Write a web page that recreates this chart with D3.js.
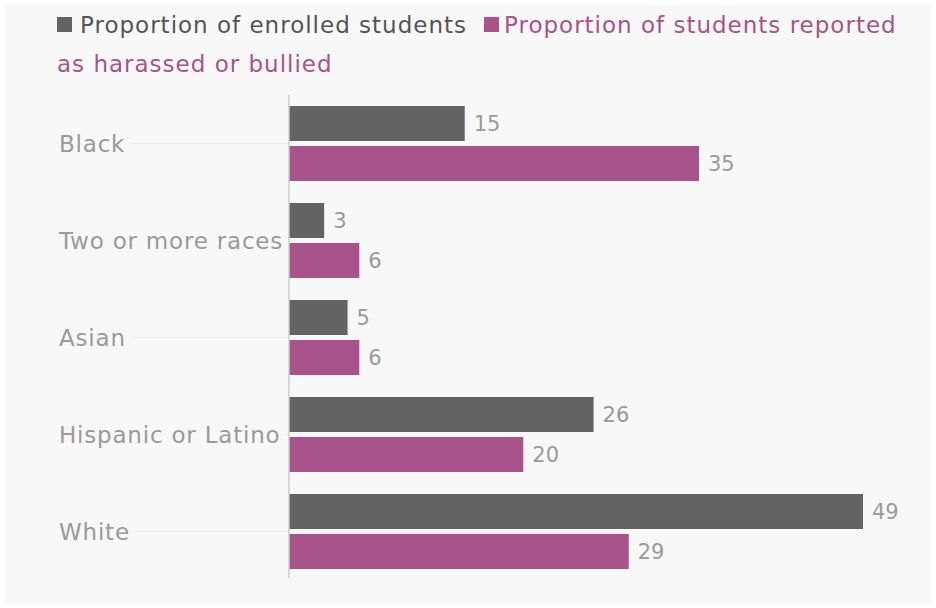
<!DOCTYPE html>
<html>
<head>
<meta charset="utf-8">
<script src="https://cdn.jsdelivr.net/npm/d3@7"></script>
<style>
  html, body { margin: 0; padding: 0; background: #ffffff; }
  svg { display: block; }
  text { font-family: "DejaVu Sans", Verdana, sans-serif; }
</style>
</head>
<body>
<svg id="chart" width="936" height="608"></svg>
<script>
// Share of enrolled students vs. share of students reported as harassed or bullied, by race
const categories = ["Black", "Two or more races", "Asian", "Hispanic or Latino", "White"];
const seriesNames = ["Proportion of enrolled students", "Proportion of students reported as harassed or bullied"];
const enrolled = [15, 3, 5, 26, 49];
const harassed = [35, 6, 6, 20, 29];

const colors = ["#636363", "#a8538a"];
const svg = d3.select("#chart");

// panel background
svg.append("rect").attr("x", 5).attr("y", 5).attr("width", 926).attr("height", 598).attr("fill", "#f8f8f8");

const x = d3.scaleLinear().domain([0, 49]).range([289, 863]);
const y0 = d3.scaleBand().domain(categories).range([95, 580]).paddingInner(22 / 97).paddingOuter(11 / 97);
const y1 = d3.scaleBand().domain([0, 1]).range([0, y0.bandwidth()]).paddingInner(0.125);

const rows = categories.map((c, i) => ({ cat: c, values: [enrolled[i], harassed[i]] }));

// category labels with faint guide lines running to the axis
const labelG = svg.append("g");
rows.forEach(r => {
  const cy = y0(r.cat) + y0.bandwidth() / 2;
  const t = labelG.append("text")
    .attr("x", 59).attr("y", cy + 8)
    .attr("font-size", 23).attr("letter-spacing", 0.8).attr("fill", "#9a9a9a")
    .text(r.cat);
  const w = t.node().getComputedTextLength();
  labelG.insert("line", "text")
    .attr("x1", 59 + w + 6).attr("x2", x(0))
    .attr("y1", cy).attr("y2", cy)
    .attr("stroke", "#ebebeb").attr("stroke-width", 1);
});

// bars
const groups = svg.append("g").selectAll("g").data(rows).join("g")
  .attr("transform", d => `translate(0,${y0(d.cat)})`);

groups.selectAll("rect").data(d => d.values.map((v, k) => ({ v, k }))).join("rect")
  .attr("x", x(0))
  .attr("y", d => y1(d.k))
  .attr("width", d => x(d.v) - x(0))
  .attr("height", y1.bandwidth())
  .attr("fill", d => colors[d.k]);

groups.selectAll("text").data(d => d.values.map((v, k) => ({ v, k }))).join("text")
  .attr("x", d => x(d.v) + 9)
  .attr("y", d => y1(d.k) + y1.bandwidth() / 2 + 7)
  .attr("font-size", 21).attr("fill", "#9a9a9a")
  .text(d => d.v);

// vertical axis line
svg.append("line").attr("x1", x(0)).attr("x2", x(0)).attr("y1", 95).attr("y2", 578)
  .attr("stroke", "#cccccc").attr("stroke-width", 1.5);

// legend
const lg = svg.append("g");
lg.append("rect").attr("x", 57).attr("y", 17).attr("width", 15).attr("height", 15).attr("fill", colors[0]);
const t1 = lg.append("text").attr("x", 80).attr("y", 33).attr("font-size", 23).attr("letter-spacing", 1)
  .attr("fill", "#555555")
  .text(seriesNames[0]);
const w1 = t1.node().getComputedTextLength();
lg.append("rect").attr("x", 80 + w1 + 17).attr("y", 17).attr("width", 15).attr("height", 15).attr("fill", colors[1]);
lg.append("text").attr("x", 80 + w1 + 37).attr("y", 33).attr("font-size", 23).attr("letter-spacing", 1)
  .attr("fill", colors[1])
  .text("Proportion of students reported");
lg.append("text").attr("x", 57).attr("y", 72).attr("font-size", 23).attr("letter-spacing", 1)
  .attr("fill", colors[1])
  .text("as harassed or bullied");
</script>
</body>
</html>
